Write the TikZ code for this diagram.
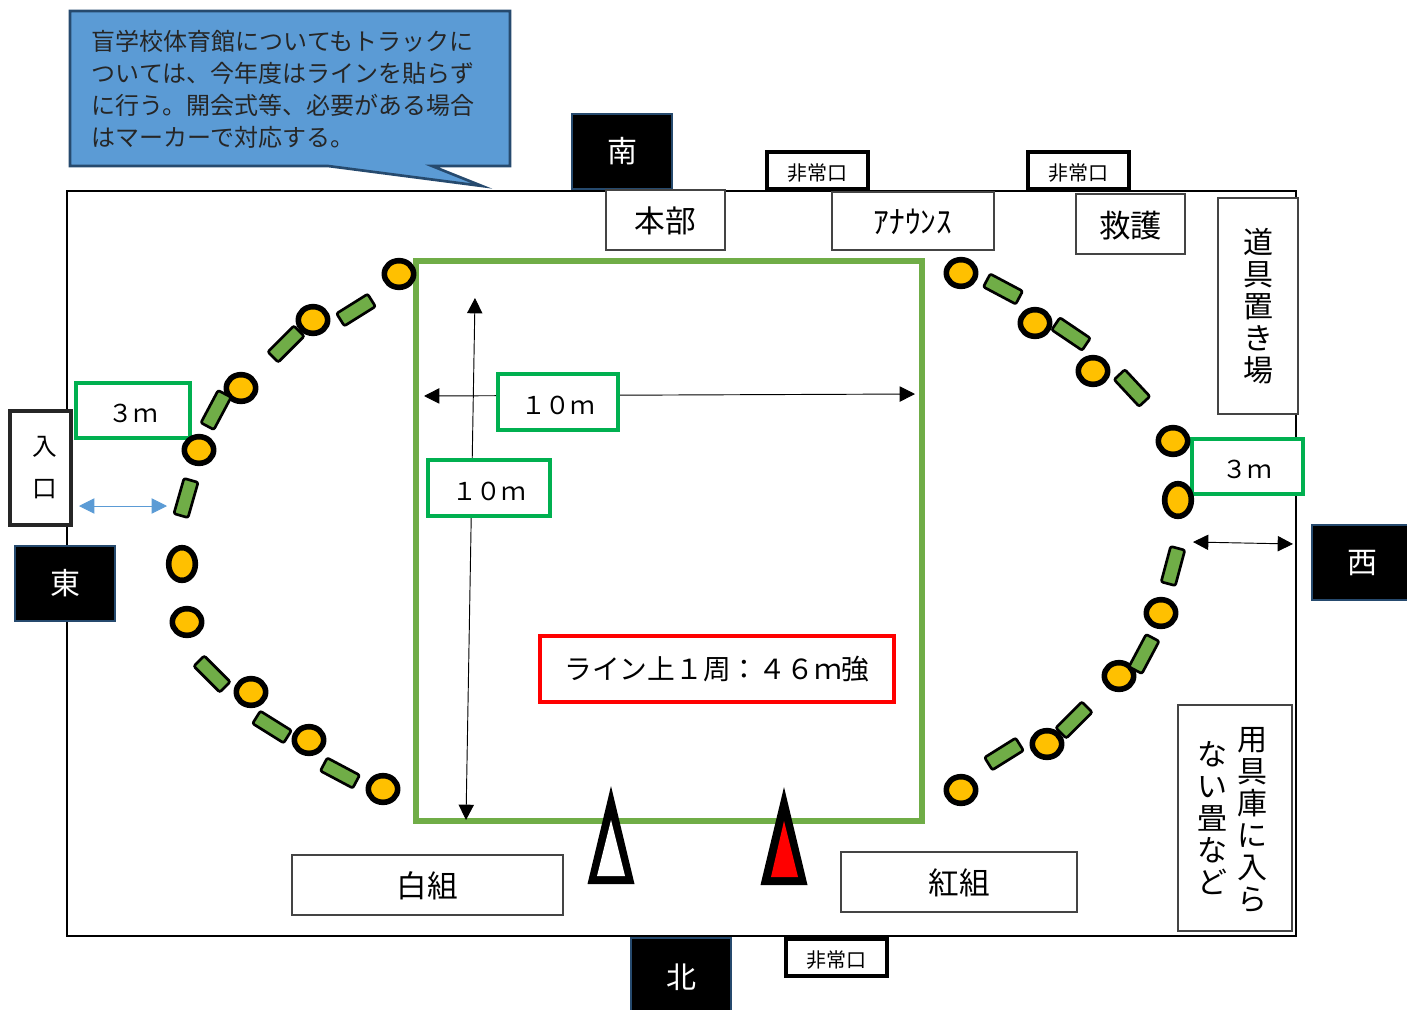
\documentclass[tikz,border=0pt]{standalone}
\usepackage{fontspec}
\setmainfont{Noto Sans CJK JP}
\usetikzlibrary{arrows.meta,shapes.geometric}
\definecolor{calloutfill}{HTML}{5B9BD5}
\definecolor{navy}{HTML}{264A6E}
\definecolor{grass}{HTML}{70AD47}
\definecolor{labelgreen}{HTML}{00B050}
\definecolor{amber}{HTML}{FFC000}
\definecolor{boxgray}{HTML}{444444}
\newcommand\dn[2]{\raisebox{-#1}[\height][\depth]{#2}}
\tikzset{
  wh/.style 2 args={minimum width=#1*0.75pt, minimum height=#2*0.75pt},
  whitebox/.style={draw=boxgray, line width=1.2pt, fill=white, inner sep=0pt},
  blackbox/.style={draw=black, line width=2.5pt, fill=white, inner sep=0pt},
  compass/.style={draw=navy, line width=2pt, fill=black, text=white, inner sep=0pt, font=\fontsize{22.5pt}{26pt}\selectfont},
  greenbox/.style={draw=labelgreen, line width=2.5pt, fill=white, inner sep=0pt, font=\fontsize{18.5pt}{22pt}\selectfont},
  cone/.style={draw=black, line width=4.2pt, fill=amber, ellipse, inner sep=0pt},
  segm/.style={draw=black, line width=2pt, fill=grass, rounded corners=1.5pt, inner sep=0pt, minimum width=27.5pt, minimum height=11pt},
  dimarrow/.style={line width=0.7pt, {Triangle[length=11.5pt,width=11.5pt]}-{Triangle[length=11.5pt,width=11.5pt]}},
  vtext/.style={align=center, inner sep=0pt, font=\fontsize{22.5pt}{24pt}\selectfont},
}
\begin{document}
\begin{tikzpicture}[x=0.75pt,y=-0.75pt]
\useasboundingbox (0,0) rectangle (1407,1010);
% hall outline
\node[draw=black, line width=1.5pt, inner sep=0pt, wh={1229}{745}] (hall) at (681.5,563.5) {};
% callout
\draw[draw=navy, line width=2pt, fill=calloutfill, line join=miter]
  (70,11) -- (510,11) -- (510,166) -- (432,166) -- (482,186) -- (328,166) -- (70,166) -- cycle;
\node[anchor=north west, align=left, inner sep=0pt, text=black!85, font=\fontsize{18pt}{24pt}\selectfont] (note) at (91.5,30)
  {盲学校体育館についてもトラックに\\ついては、今年度はラインを貼らず\\に行う。開会式等、必要がある場合\\はマーカーで対応する。};
% field
\node[draw=grass, line width=3.8pt, inner sep=0pt, wh={506}{560}] (field) at (669,541) {};
% dimension arrow end points
\coordinate (vtop) at (475,298);
\coordinate (vbot) at (466,820);
\coordinate (hleft) at (424,396);
\coordinate (hright) at (915,394);
\coordinate (bleft) at (79,506);
\coordinate (bright) at (167,506);
\coordinate (kleft) at (1193,542);
\coordinate (kright) at (1293,544);
\draw[dimarrow] (vtop) -- (vbot);
\draw[dimarrow] (hleft) -- (hright);
\draw[dimarrow, draw=calloutfill, fill=calloutfill] (bleft) -- (bright);
\draw[dimarrow] (kleft) -- (kright);
% compass
\node[compass, wh={100}{75}] (south) at (622,151.5) {南};
\node[compass, wh={100}{75}] (east) at (65,583.5) {東};
\path[draw=navy, line width=2pt, fill=black] (1407,525) -- (1312,525) -- (1312,600) -- (1407,600);
\node[inner sep=0pt, text=white, font=\fontsize{22.5pt}{26pt}\selectfont] (west) at (1362,563) {西};
\path[draw=navy, line width=2pt, fill=black] (631,1010) -- (631,938) -- (731,938) -- (731,1010);
\node[inner sep=0pt, text=white, font=\fontsize{22.5pt}{26pt}\selectfont] (north) at (681,977) {北};
% emergency exits
\node[blackbox, wh={101}{37}, font=\fontsize{15pt}{18pt}\selectfont] (exit1) at (817.5,170.5) {\dn{1.5pt}{非常口}};
\node[blackbox, wh={101}{37}, font=\fontsize{15pt}{18pt}\selectfont] (exit2) at (1078.5,170.5) {\dn{1.5pt}{非常口}};
\node[blackbox, wh={101}{37}, font=\fontsize{15pt}{18pt}\selectfont] (exit3) at (836.5,957.5) {\dn{1.5pt}{非常口}};
% white labels
\node[whitebox, wh={119}{60}, font=\fontsize{23pt}{26pt}\selectfont] (hq) at (665.5,220) {\dn{0.75pt}{本部}};
\node[whitebox, wh={162}{58}, font=\fontsize{23.5pt}{26pt}\selectfont] (ann) at (913,221) {\dn{0.75pt}{ｱﾅｳﾝｽ}};
\node[whitebox, wh={109}{60}, font=\fontsize{23.5pt}{26pt}\selectfont] (aid) at (1130.5,224) {\dn{1.5pt}{救護}};
\node[whitebox, wh={80}{216}, vtext] (tools) at (1258,306) {道\\具\\置\\き\\場};
\node[whitebox, wh={271}{60}, font=\fontsize{23pt}{26pt}\selectfont] (white) at (427.5,885) {\dn{0.75pt}{白組}};
\node[whitebox, wh={236}{60}, font=\fontsize{23pt}{26pt}\selectfont] (red) at (959,882) {\dn{0.75pt}{紅組}};
\node[whitebox, wh={114}{226}] (store) at (1235,818) {};
\node[vtext] (storeR) at (1252,820) {用\\具\\庫\\に\\入\\ら};
\node[vtext] (storeL) at (1212,818) {な\\い\\畳\\な\\ど};
\node[blackbox, wh={61}{114}, draw=black!85, align=center, font=\fontsize{18.5pt}{31.5pt}\selectfont] (entry) at (40.5,468) {\hspace{6pt}入\\\hspace{6pt}口};
% measures
\node[greenbox, wh={114}{55}] (m3l) at (133,410.5) {\dn{2.25pt}{３ｍ}};
\node[greenbox, wh={111}{55}] (m3r) at (1247.5,466.5) {\dn{2.25pt}{３ｍ}};
\node[greenbox, wh={120}{56}] (m10h) at (558,402) {\dn{2.25pt}{１０ｍ}};
\node[greenbox, wh={122}{56}] (m10v) at (489,488) {\dn{2.25pt}{１０ｍ}};
\node[draw=red, line width=2.5pt, fill=white, inner sep=0pt, wh={354}{66}, font=\fontsize{20.8pt}{24pt}\selectfont] (lap) at (717,669) {\dn{0pt}{ライン上１周：４６ｍ強}};
% cones on track
\foreach \n/\x/\y in {a1/399/274,a2/313/320,a3/241/388,a4/199/450,a5/187/622,a6/251/692,a7/309/740,a8/383/789,
  b1/961/273,b2/1035/323,b3/1093/371,b4/1173/441,b5/1161/613,b6/1119/676,b7/1047/744,b8/961/790}
  \node[cone, minimum width=22pt, minimum height=20pt] (\n) at (\x,\y) {};
\node[cone, minimum width=20pt, minimum height=24.5pt] (a9) at (182,564) {};
\node[cone, minimum width=20pt, minimum height=24.5pt] (b9) at (1178,500) {};
% track segments
\foreach \n/\x/\y/\r in {s1/356/310/32,s2/286/344/45,s3/216/410/62,s4/186/498/74,s5/212/674/-45,s6/272/727/-32,s7/340/773/-28,
  t1/1003/289/-28,t2/1071/334/-34,t3/1132/388/-47,t4/1173/566/75,t5/1144/654/62,t6/1074/720/45,t7/1004/754/32}
  \node[segm, rotate=\r] (\n) at (\x,\y) {};
% team cones
\draw[fill=black, draw=none] (611,786) -- (634.5,884) -- (587.5,884) -- cycle;
\draw[fill=white, draw=none] (611,820) -- (625,876) -- (597,876) -- cycle;
\draw[fill=black, draw=none] (784,787) -- (807.5,885) -- (760.5,885) -- cycle;
\draw[fill=red, draw=none] (784,821) -- (798,877) -- (771,877) -- cycle;
\end{tikzpicture}
\end{document}
